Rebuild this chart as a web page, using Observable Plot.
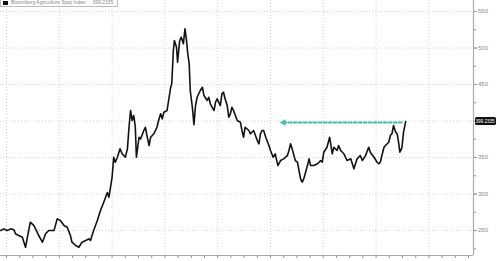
<!DOCTYPE html>
<html>
<head>
<meta charset="utf-8">
<script src="https://cdn.jsdelivr.net/npm/d3@7"></script>
<script src="https://cdn.jsdelivr.net/npm/@observablehq/plot@0.6"></script>
<style>
  html, body { margin: 0; padding: 0; background: #fff; }
  #wrap { position: relative; width: 497px; height: 261px; overflow: hidden; }
  #legend { position: absolute; left: 0; top: -3px; border: 1px solid #bbb; background: #fff;
    font: 5px "Liberation Sans", Arial, sans-serif; color: #888; padding: 1px 4px 1px 2px; white-space: nowrap; }
  #legend .sw { display: inline-block; width: 5px; height: 4px; background: #111; margin-right: 3px; vertical-align: middle; }
  #last { position: absolute; background: #111; color: #fff; border-radius: 1.5px;
    font: 4.6px "Liberation Sans", Arial, sans-serif; padding: 1.5px 1px; line-height: 5px; white-space: nowrap; transform: translateY(-50%); }
</style>
</head>
<body>
<div id="wrap"><div id="chart"></div>
<div id="legend"><span class="sw"></span>Bloomberg Agriculture Spot Index &nbsp;&nbsp;&nbsp; 399.2335</div>
<div id="last"></div></div>
<script>
const times = [2017.89,2017.95,2018.01,2018.08,2018.14,2018.17,2018.23,2018.30,2018.36,2018.39,2018.45,2018.52,2018.55,2018.61,2018.68,2018.74,2018.80,2018.90,2018.96,2019.02,2019.09,2019.15,2019.21,2019.24,2019.31,2019.37,2019.43,2019.50,2019.56,2019.59,2019.65,2019.72,2019.78,2019.84,2019.91,2019.94,2020.00,2020.03,2020.06,2020.10,2020.15,2020.19,2020.25,2020.29,2020.32,2020.35,2020.38,2020.41,2020.44,2020.46,2020.51,2020.54,2020.60,2020.63,2020.66,2020.70,2020.73,2020.79,2020.85,2020.88,2020.92,2020.95,2020.98,2021.04,2021.07,2021.11,2021.13,2021.16,2021.18,2021.22,2021.24,2021.28,2021.31,2021.35,2021.38,2021.41,2021.43,2021.46,2021.48,2021.52,2021.55,2021.58,2021.61,2021.67,2021.71,2021.74,2021.80,2021.83,2021.86,2021.93,2021.96,2021.99,2022.05,2022.08,2022.11,2022.14,2022.18,2022.21,2022.24,2022.27,2022.30,2022.37,2022.43,2022.46,2022.49,2022.52,2022.59,2022.62,2022.68,2022.75,2022.78,2022.81,2022.84,2022.87,2022.91,2022.97,2023.00,2023.05,2023.09,2023.14,2023.19,2023.25,2023.32,2023.35,2023.38,2023.41,2023.47,2023.51,2023.54,2023.57,2023.60,2023.63,2023.70,2023.73,2023.76,2023.82,2023.89,2023.92,2023.95,2023.98,2024.01,2024.07,2024.12,2024.17,2024.20,2024.26,2024.29,2024.33,2024.39,2024.45,2024.52,2024.58,2024.61,2024.64,2024.70,2024.74,2024.80,2024.86,2024.89,2024.96,2025.02,2025.05,2025.08,2025.11,2025.15,2025.21,2025.24,2025.27,2025.30,2025.33,2025.37,2025.40,2025.43,2025.45,2025.48,2025.49,2025.52,2025.56];
const values = [250.0,252.3,250.0,252.3,251.0,245.5,243.2,240.8,227.1,238.6,261.4,256.8,252.3,243.2,234.0,245.5,250.0,250.0,266.0,263.7,256.8,254.5,243.2,234.0,229.5,227.1,234.0,236.3,238.6,236.3,250.0,263.7,277.4,288.4,302.1,295.6,323.0,350.4,343.6,350.4,361.9,355.1,350.4,361.9,391.5,414.4,400.7,407.5,391.5,350.4,377.8,375.6,387.0,391.5,380.1,366.4,377.8,382.5,391.5,400.7,409.9,403.0,412.1,414.4,428.1,446.3,451.0,496.6,510.3,501.1,480.5,510.3,514.8,505.8,526.3,510.3,494.2,478.4,441.8,418.9,395.0,421.2,432.6,441.8,446.3,434.9,428.1,432.6,423.6,414.4,425.8,430.4,421.2,437.3,439.5,430.4,421.2,405.2,409.9,418.9,414.4,400.7,398.4,387.0,377.8,391.5,387.0,382.5,387.0,373.3,368.8,382.5,387.0,387.0,377.8,366.4,359.6,350.4,355.1,339.0,345.9,348.2,352.7,359.6,368.8,361.9,345.9,343.6,332.2,320.8,316.2,320.8,339.0,348.2,339.0,339.0,341.4,343.6,345.9,343.6,357.3,364.1,377.8,355.1,364.1,359.6,366.4,359.6,355.1,345.9,348.2,334.5,341.4,348.2,352.7,345.9,352.7,364.1,357.3,350.4,343.6,341.4,343.6,352.7,364.1,368.8,371.0,380.1,382.5,393.8,384.7,382.5,368.8,357.3,361.9,364.1,384.7,399.23];
const yTicks = [250, 300, 350, 400, 450, 500, 550];
const yLabelTicks = [250, 300, 350, 450, 500, 550];
const yMinor = [225, 275, 325, 375, 425, 475, 525];
const xYears = [2018, 2019, 2020, 2021, 2022, 2023, 2024, 2025, 2026];
const refLevel = 398;
const refStart = 2023.25;
const refEnd = 2025.52;
const lastLabel = "399.2335";

const series = times.map((t, i) => ({t, v: values[i]}));
const xDomain = [2017.886, 2026.845];
const yDomain = [215.8, 565.1];
const xQuarters = d3.range(2018, 2026.9, 0.25);
const refLine = [{t: refStart, v: refLevel}, {t: refEnd, v: refLevel}];

const chart = Plot.plot({
  width: 497, height: 261,
  marginTop: 0, marginBottom: 6, marginLeft: 0, marginRight: 24,
  x: {domain: xDomain, label: null},
  y: {domain: yDomain, label: null},
  style: {background: "#fff", fontFamily: "Liberation Sans, Arial, sans-serif"},
  marks: [
    Plot.ruleY(yTicks, {stroke: "#c8c8c8", strokeDasharray: "1,2", strokeWidth: 0.8}),
    Plot.ruleX(xYears, {stroke: "#c8c8c8", strokeDasharray: "1,2", strokeWidth: 0.8}),
    Plot.line(refLine, {x: "t", y: "v", stroke: "#3dbfa6", strokeWidth: 1.8, strokeDasharray: "3,2"}),
    Plot.dot([refLine[0]], {x: "t", y: "v", symbol: "triangle", rotate: -90, r: 2.4, fill: "#3dbfa6", stroke: "none"}),
    Plot.line(series, {x: "t", y: "v", stroke: "#111", strokeWidth: 1.6, strokeLinejoin: "round"}),
    Plot.ruleY([yDomain[0]], {stroke: "#aaa", strokeWidth: 1.2}),
    Plot.ruleX([xDomain[1]], {stroke: "#aaa", strokeWidth: 1.2}),
    Plot.axisX(xQuarters, {anchor: "bottom", tickSize: 3, stroke: "#999", tickFormat: () => "", label: null}),
    Plot.axisY(yMinor, {anchor: "right", tickSize: 2, stroke: "#999", tickFormat: () => "", label: null}),
    Plot.axisY(yTicks, {anchor: "right", tickSize: 3, stroke: "#999", tickFormat: () => "", label: null}),
    Plot.axisY(yLabelTicks, {anchor: "right", tickSize: 3, tickPadding: 1.5, stroke: "#999", fill: "#888", fontSize: 6, tickFormat: d => String(d), label: null}),
  ]
});
document.getElementById("chart").appendChild(chart);
const last = document.getElementById("last");
last.textContent = lastLabel;
last.style.left = (chart.scale("x").apply(xDomain[1]) + 1.5) + "px";
last.style.top = chart.scale("y").apply(values[values.length - 1]) + "px";
</script>
</body>
</html>
